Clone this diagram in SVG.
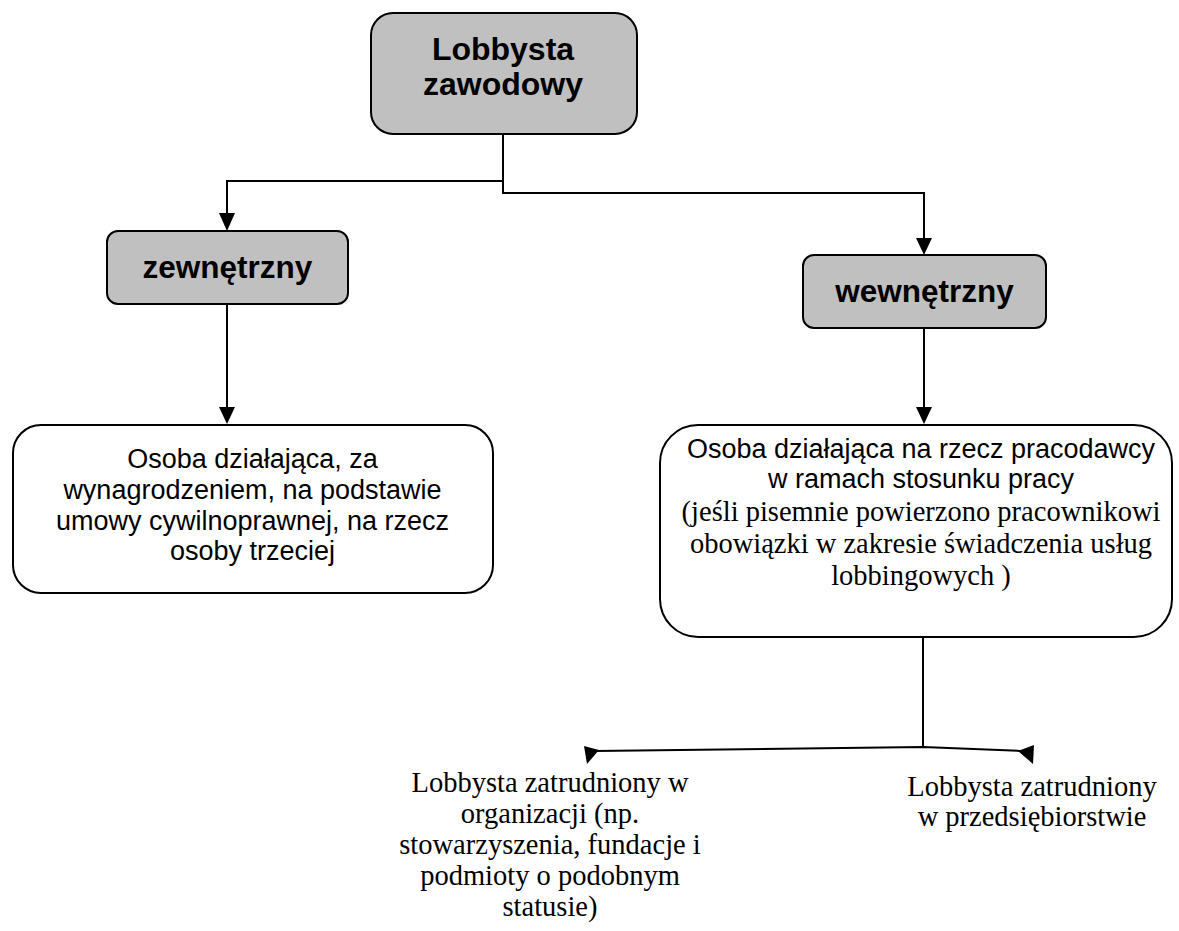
<svg xmlns="http://www.w3.org/2000/svg" width="1179" height="931" viewBox="0 0 1179 931">
<defs>
<style>
.grey{fill:#c0c0c0;stroke:#000;stroke-width:2}
.white{fill:#fff;stroke:#000;stroke-width:2}
.hb{font-family:"Liberation Sans",Arial,sans-serif;font-weight:bold;fill:#000;text-anchor:middle}
.ar{font-family:"Liberation Sans",Arial,sans-serif;font-size:27px;fill:#000;text-anchor:middle}
.tm{font-family:"Liberation Serif","Times New Roman",serif;font-size:28.5px;fill:#000;text-anchor:middle}
.ln{fill:none;stroke:#000;stroke-width:2}
.ah{fill:#000}
</style>
</defs>
<rect width="1179" height="931" fill="#fff"/>
<g id="connectors">
<polyline class="ln" points="503,134 503,193 924,193 924,239"/>
<polyline class="ln" points="503,181 227,181 227,215"/>
<path class="ah" d="M219,213 L235,213 L227,231 Z"/>
<path class="ah" d="M916,238 L932,238 L924,255 Z"/>
<line class="ln" x1="227" y1="304" x2="227" y2="408"/>
<path class="ah" d="M219,407 L235,407 L227,424 Z"/>
<line class="ln" x1="924" y1="328" x2="924" y2="408"/>
<path class="ah" d="M916,407 L932,407 L924,424 Z"/>
<polyline class="ln" points="923,637 923,748"/>
<polyline class="ln" points="595,751 923,747 1022,751"/>
<path class="ah" d="M584,746 L599,750 L587,764 Z"/>
<path class="ah" d="M1034,745 L1018,751 L1033,764 Z"/>
</g>
<g id="node-lobbysta">
<rect class="grey" x="371" y="13" width="266" height="121" rx="22"/>
<text class="hb" font-size="32" x="503" y="60">Lobbysta</text>
<text class="hb" font-size="32" x="503" y="95">zawodowy</text>
</g>
<g id="node-zewnetrzny">
<rect class="grey" x="107" y="231" width="241" height="73" rx="11"/>
<text class="hb" font-size="31.5" x="227.5" y="278">zewnętrzny</text>
</g>
<g id="node-wewnetrzny">
<rect class="grey" x="803" y="255" width="243" height="73" rx="11"/>
<text class="hb" font-size="31.5" x="924.5" y="302">wewnętrzny</text>
</g>
<g id="node-osoba-zew">
<rect class="white" x="13" y="425" width="480" height="168" rx="28"/>
<text class="ar" x="252.5" y="468">Osoba działająca, za</text>
<text class="ar" x="252.5" y="499">wynagrodzeniem, na podstawie</text>
<text class="ar" x="252.5" y="530">umowy cywilnoprawnej, na rzecz</text>
<text class="ar" x="252.5" y="560">osoby trzeciej</text>
</g>
<g id="node-osoba-wew">
<rect class="white" x="660" y="425" width="512" height="212" rx="38"/>
<text class="ar" x="921" y="458">Osoba działająca na rzecz pracodawcy</text>
<text class="ar" x="921" y="488">w ramach stosunku pracy</text>
<text class="tm" x="921" y="521">(jeśli pisemnie powierzono pracownikowi</text>
<text class="tm" x="921" y="553">obowiązki w zakresie świadczenia usług</text>
<text class="tm" x="921" y="585">lobbingowych )</text>
</g>
<g id="node-organizacja">
<text class="tm" x="550" y="792">Lobbysta zatrudniony w</text>
<text class="tm" x="550" y="823">organizacji (np.</text>
<text class="tm" x="550" y="854">stowarzyszenia, fundacje i</text>
<text class="tm" x="550" y="885">podmioty o podobnym</text>
<text class="tm" x="550" y="916">statusie)</text>
</g>
<g id="node-przedsiebiorstwo">
<text class="tm" x="1032" y="796">Lobbysta zatrudniony</text>
<text class="tm" x="1032" y="826">w przedsiębiorstwie</text>
</g>
</svg>
